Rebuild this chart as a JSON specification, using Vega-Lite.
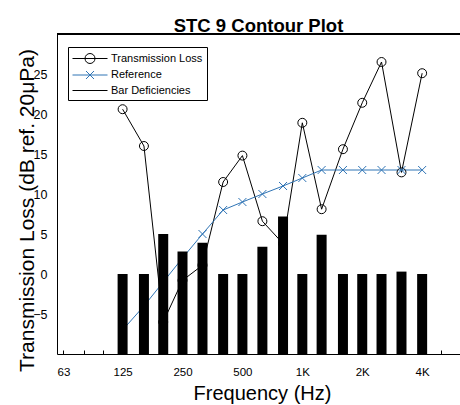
{
  "$schema": "https://vega.github.io/schema/vega-lite/v6.json",
  "autosize": {"type": "none"},
  "padding": {"left": 57, "top": 34, "right": 0, "bottom": 51},
  "width": 403,
  "height": 320,
  "background": "white",
  "config": {
    "view": {"stroke": null},
    "font": "Liberation Sans",
    "axis": {"grid": false, "domainColor": "black", "tickColor": "black", "labelColor": "black", "titleColor": "black", "labelFont": "Liberation Sans", "titleFont": "Liberation Sans", "titleFontWeight": "normal", "domainWidth": 1, "tickWidth": 1}
  },
  "title": {"text": "STC 9 Contour Plot", "font": "Liberation Sans", "fontSize": 18.5, "fontWeight": "bold", "color": "black", "anchor": "middle", "frame": "group", "offset": -2},
  "data": {
    "values": [
      {"freq": 125, "series": "Transmission Loss", "value": 20.6},
      {"freq": 160, "series": "Transmission Loss", "value": 16.0},
      {"freq": 200, "series": "Transmission Loss", "value": -6.0},
      {"freq": 250, "series": "Transmission Loss", "value": -0.8},
      {"freq": 315, "series": "Transmission Loss", "value": 1.1},
      {"freq": 400, "series": "Transmission Loss", "value": 11.5},
      {"freq": 500, "series": "Transmission Loss", "value": 14.8},
      {"freq": 630, "series": "Transmission Loss", "value": 6.6},
      {"freq": 800, "series": "Transmission Loss", "value": 3.8},
      {"freq": 1000, "series": "Transmission Loss", "value": 18.9},
      {"freq": 1250, "series": "Transmission Loss", "value": 8.1},
      {"freq": 1600, "series": "Transmission Loss", "value": 15.6},
      {"freq": 2000, "series": "Transmission Loss", "value": 21.4},
      {"freq": 2500, "series": "Transmission Loss", "value": 26.5},
      {"freq": 3150, "series": "Transmission Loss", "value": 12.7},
      {"freq": 4000, "series": "Transmission Loss", "value": 25.1},
      {"freq": 125, "series": "Reference", "value": -7},
      {"freq": 160, "series": "Reference", "value": -4},
      {"freq": 200, "series": "Reference", "value": -1},
      {"freq": 250, "series": "Reference", "value": 2},
      {"freq": 315, "series": "Reference", "value": 5},
      {"freq": 400, "series": "Reference", "value": 8},
      {"freq": 500, "series": "Reference", "value": 9},
      {"freq": 630, "series": "Reference", "value": 10},
      {"freq": 800, "series": "Reference", "value": 11},
      {"freq": 1000, "series": "Reference", "value": 12},
      {"freq": 1250, "series": "Reference", "value": 13},
      {"freq": 1600, "series": "Reference", "value": 13},
      {"freq": 2000, "series": "Reference", "value": 13},
      {"freq": 2500, "series": "Reference", "value": 13},
      {"freq": 3150, "series": "Reference", "value": 13},
      {"freq": 4000, "series": "Reference", "value": 13},
      {"freq": 125, "series": "Bar Deficiencies", "value": 0},
      {"freq": 160, "series": "Bar Deficiencies", "value": 0},
      {"freq": 200, "series": "Bar Deficiencies", "value": 5.0},
      {"freq": 250, "series": "Bar Deficiencies", "value": 2.8},
      {"freq": 315, "series": "Bar Deficiencies", "value": 3.9},
      {"freq": 400, "series": "Bar Deficiencies", "value": 0},
      {"freq": 500, "series": "Bar Deficiencies", "value": 0},
      {"freq": 630, "series": "Bar Deficiencies", "value": 3.4},
      {"freq": 800, "series": "Bar Deficiencies", "value": 7.2},
      {"freq": 1000, "series": "Bar Deficiencies", "value": 0},
      {"freq": 1250, "series": "Bar Deficiencies", "value": 4.9},
      {"freq": 1600, "series": "Bar Deficiencies", "value": 0},
      {"freq": 2000, "series": "Bar Deficiencies", "value": 0},
      {"freq": 2500, "series": "Bar Deficiencies", "value": 0},
      {"freq": 3150, "series": "Bar Deficiencies", "value": 0.3},
      {"freq": 4000, "series": "Bar Deficiencies", "value": 0}
    ]
  },
  "layer": [
    {
      "mark": {"type": "rule", "color": "black", "strokeWidth": 1},
      "encoding": {
        "y": {"datum": 30, "type": "quantitative", "scale": {"domain": [-10, 30], "nice": false, "zero": false},
          "axis": {"values": [-5, 0, 5, 10, 15, 20, 25], "ticks": false, "labelPadding": 10, "labelFontSize": 12.5, "title": "Transmission Loss (dB ref. 20μPa)", "titleFontSize": 21, "titleAngle": 270, "titleX": -24, "titleY": 176, "titleBaseline": "alphabetic", "titleAlign": "center"}}
      }
    },
    {
      "transform": [{"filter": "datum.series !== 'Bar Deficiencies'"}],
      "mark": {"type": "line", "strokeWidth": 1},
      "encoding": {
        "x": {"field": "freq", "type": "quantitative", "scale": {"type": "log", "domain": [62, 5850], "nice": false},
          "axis": {"values": [63, 80, 100, 125, 160, 200, 250, 315, 400, 500, 630, 800, 1000, 1250, 1600, 2000, 2500, 3150, 4000, 5000], "labelExpr": "indexof([63,125,250,500], datum.value) >= 0 ? toString(datum.value) : (indexof([1000,2000,4000], datum.value) >= 0 ? toString(datum.value/1000) + 'K' : '')", "tickSize": -4, "labelPadding": 16, "labelFontSize": 11.5, "labelFlush": false, "labelOverlap": false, "title": "Frequency (Hz)", "titleFontSize": 20, "titleY": 45, "titleX": 205, "titleBaseline": "alphabetic"}},
        "y": {"field": "value", "type": "quantitative", "scale": {"domain": [-10, 30], "nice": false, "zero": false},
          "axis": {"values": [-5, 0, 5, 10, 15, 20, 25], "ticks": false, "labelPadding": 10, "labelFontSize": 12.5, "title": "Transmission Loss (dB ref. 20μPa)", "titleFontSize": 21, "titleAngle": 270, "titleX": -24, "titleY": 176, "titleBaseline": "alphabetic", "titleAlign": "center"}},
        "color": {"field": "series", "type": "nominal",
          "scale": {"domain": ["Transmission Loss", "Reference", "Bar Deficiencies"], "range": ["black", "#2f74b5", "black"]},
          "legend": {"orient": "none", "legendX": 11, "legendY": 13, "title": null, "symbolSize": 196, "labelOffset": 24,
            "labelFontSize": 11, "labelFont": "Liberation Sans", "labelColor": "black", "padding": 4, "rowPadding": 1.5,
            "strokeColor": "black", "fillColor": "white", "cornerRadius": 0, "symbolStrokeWidth": 1,
            "encode": {"symbols": {"update": {
              "shape": {"signal": "datum.value === 'Transmission Loss' ? 'M-1,0H4M2.214,0A0.714,0.714 0 1 1 0.786,0A0.714,0.714 0 1 1 2.214,0' : datum.value === 'Reference' ? 'M-1,0H4M0.929,-0.571L2.071,0.571M0.929,0.571L2.071,-0.571' : 'M-1,0H4'"},
              "fill": {"value": "transparent"},
              "strokeWidth": {"value": 1}
            }}}}}
      }
    },
    {
      "transform": [{"filter": "datum.series === 'Transmission Loss'"}],
      "mark": {"type": "point", "shape": "circle", "filled": false, "stroke": "black", "strokeWidth": 1, "size": 80, "opacity": 1},
      "encoding": {
        "x": {"field": "freq", "type": "quantitative",
          "axis": {"values": [63, 80, 100, 125, 160, 200, 250, 315, 400, 500, 630, 800, 1000, 1250, 1600, 2000, 2500, 3150, 4000, 5000], "labelExpr": "indexof([63,125,250,500], datum.value) >= 0 ? toString(datum.value) : (indexof([1000,2000,4000], datum.value) >= 0 ? toString(datum.value/1000) + 'K' : '')", "tickSize": -4, "labelPadding": 16, "labelFontSize": 11.5, "labelFlush": false, "labelOverlap": false, "title": "Frequency (Hz)", "titleFontSize": 20, "titleY": 45, "titleX": 205, "titleBaseline": "alphabetic"}},
        "y": {"field": "value", "type": "quantitative",
          "axis": {"values": [-5, 0, 5, 10, 15, 20, 25], "ticks": false, "labelPadding": 10, "labelFontSize": 12.5, "title": "Transmission Loss (dB ref. 20μPa)", "titleFontSize": 21, "titleAngle": 270, "titleX": -24, "titleY": 176, "titleBaseline": "alphabetic", "titleAlign": "center"}}
      }
    },
    {
      "transform": [{"filter": "datum.series === 'Reference'"}],
      "mark": {"type": "point", "shape": "M-1,-1L1,1M-1,1L1,-1", "filled": false, "stroke": "#2f74b5", "strokeWidth": 1, "size": 64, "opacity": 1},
      "encoding": {
        "x": {"field": "freq", "type": "quantitative",
          "axis": {"values": [63, 80, 100, 125, 160, 200, 250, 315, 400, 500, 630, 800, 1000, 1250, 1600, 2000, 2500, 3150, 4000, 5000], "labelExpr": "indexof([63,125,250,500], datum.value) >= 0 ? toString(datum.value) : (indexof([1000,2000,4000], datum.value) >= 0 ? toString(datum.value/1000) + 'K' : '')", "tickSize": -4, "labelPadding": 16, "labelFontSize": 11.5, "labelFlush": false, "labelOverlap": false, "title": "Frequency (Hz)", "titleFontSize": 20, "titleY": 45, "titleX": 205, "titleBaseline": "alphabetic"}},
        "y": {"field": "value", "type": "quantitative",
          "axis": {"values": [-5, 0, 5, 10, 15, 20, 25], "ticks": false, "labelPadding": 10, "labelFontSize": 12.5, "title": "Transmission Loss (dB ref. 20μPa)", "titleFontSize": 21, "titleAngle": 270, "titleX": -24, "titleY": 176, "titleBaseline": "alphabetic", "titleAlign": "center"}}
      }
    },
    {
      "transform": [{"filter": "datum.series === 'Bar Deficiencies'"}],
      "mark": {"type": "bar", "width": 10, "color": "black"},
      "encoding": {
        "x": {"field": "freq", "type": "quantitative",
          "axis": {"values": [63, 80, 100, 125, 160, 200, 250, 315, 400, 500, 630, 800, 1000, 1250, 1600, 2000, 2500, 3150, 4000, 5000], "labelExpr": "indexof([63,125,250,500], datum.value) >= 0 ? toString(datum.value) : (indexof([1000,2000,4000], datum.value) >= 0 ? toString(datum.value/1000) + 'K' : '')", "tickSize": -4, "labelPadding": 16, "labelFontSize": 11.5, "labelFlush": false, "labelOverlap": false, "title": "Frequency (Hz)", "titleFontSize": 20, "titleY": 45, "titleX": 205, "titleBaseline": "alphabetic"}},
        "y": {"field": "value", "type": "quantitative",
          "axis": {"values": [-5, 0, 5, 10, 15, 20, 25], "ticks": false, "labelPadding": 10, "labelFontSize": 12.5, "title": "Transmission Loss (dB ref. 20μPa)", "titleFontSize": 21, "titleAngle": 270, "titleX": -24, "titleY": 176, "titleBaseline": "alphabetic", "titleAlign": "center"}},
        "y2": {"datum": -10}
      }
    }
  ]
}
